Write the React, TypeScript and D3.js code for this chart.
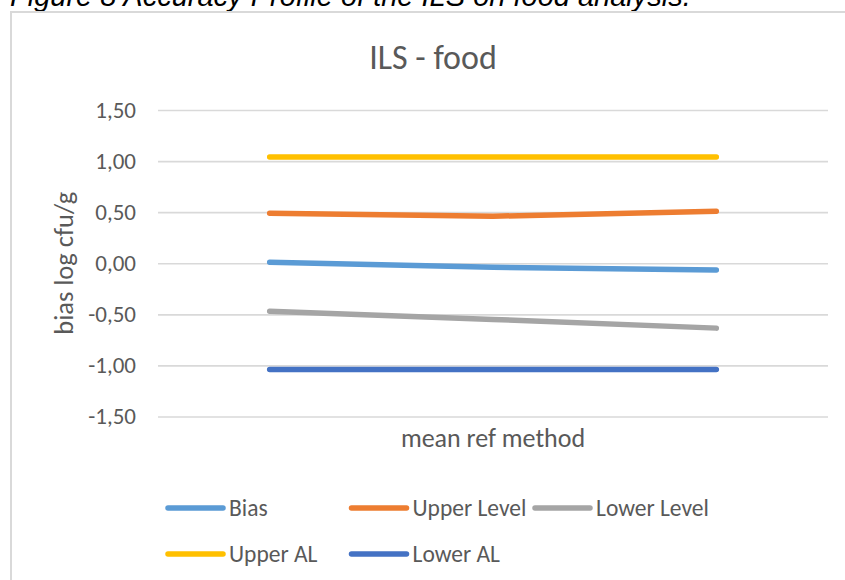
import React, { useEffect, useRef } from "react";
import * as d3 from "d3";

// categories on the x axis have no labels in the original chart
const categories = ["c1", "c2", "c3"];

const seriesNames = ["Bias", "Upper Level", "Lower Level", "Upper AL", "Lower AL"];
const bias = [0.01, -0.04, -0.065];
const upperLevel = [0.49, 0.46, 0.51];
const lowerLevel = [-0.47, -0.55, -0.635];
const upperAL = [1.04, 1.04, 1.04];
const lowerAL = [-1.04, -1.04, -1.04];

const yTicks = [-1.5, -1.0, -0.5, 0, 0.5, 1.0, 1.5];

const colors = ["#5B9BD5", "#ED7D31", "#A5A5A5", "#FFC000", "#4472C4"];

const width = 845;
const height = 580;
const font = "Carlito, Calibri, Lato, sans-serif";

export default function App() {
  const svgRef = useRef(null);

  useEffect(() => {
    const svg = d3.select(svgRef.current);
    svg.selectAll("*").remove();

    const series = [bias, upperLevel, lowerLevel, upperAL, lowerAL];

    // plot area
    const left = 158;
    const right = 828;
    const top = 110;
    const bottom = 416.5;

    const x = d3.scalePoint().domain(categories).range([left, right]).padding(0.5);
    const y = d3.scaleLinear().domain([-1.5, 1.5]).range([bottom, top]);

    // figure caption, cut off at the top of the picture (as in the original)
    svg
      .append("text")
      .attr("x", 10)
      .attr("y", 6)
      .attr("font-family", "'Liberation Sans', Arial, sans-serif")
      .attr("font-style", "italic")
      .attr("font-size", 29)
      .attr("fill", "#000")
      .text("Figure 8 Accuracy Profile of the ILS on food analysis.");

    // chart frame
    svg
      .append("rect")
      .attr("x", 11)
      .attr("y", 12)
      .attr("width", 860)
      .attr("height", 600)
      .attr("fill", "#fff")
      .attr("stroke", "#D9D9D9")
      .attr("stroke-width", 2);

    svg
      .append("text")
      .attr("x", 433)
      .attr("y", 69)
      .attr("text-anchor", "middle")
      .attr("font-family", font)
      .attr("font-size", 34)
      .attr("fill", "#595959")
      .text("ILS - food");

    // gridlines + tick labels
    const yAxis = d3
      .axisLeft(y)
      .tickValues(yTicks)
      .tickSize(-(right - left))
      .tickPadding(22)
      .tickFormat((d) => d3.format(".2f")(d).replace(".", ",").replace("−", "-"));

    const gy = svg.append("g").attr("transform", `translate(${left},0)`).call(yAxis);
    gy.select(".domain").remove();
    gy.selectAll(".tick line").attr("stroke", "#D9D9D9").attr("stroke-width", 1.6);
    gy.selectAll(".tick text")
      .attr("font-family", font)
      .attr("font-size", 23)
      .attr("fill", "#595959");

    svg
      .append("text")
      .attr("transform", `translate(73,${(top + bottom) / 2}) rotate(-90)`)
      .attr("text-anchor", "middle")
      .attr("font-family", font)
      .attr("font-size", 26.5)
      .attr("fill", "#595959")
      .text("bias log cfu/g");

    svg
      .append("text")
      .attr("x", (left + right) / 2)
      .attr("y", 447)
      .attr("text-anchor", "middle")
      .attr("font-family", font)
      .attr("font-size", 26)
      .attr("fill", "#595959")
      .text("mean ref method");

    const line = d3
      .line<number>()
      .x((d, i) => x(categories[i]))
      .y((d) => y(d));

    svg
      .append("g")
      .selectAll("path")
      .data(series)
      .join("path")
      .attr("d", (d) => line(d))
      .attr("fill", "none")
      .attr("stroke", (d, i) => colors[i])
      .attr("stroke-width", 5.5)
      .attr("stroke-linecap", "round")
      .attr("stroke-linejoin", "round");

    // legend: 3 columns, wraps onto a second row
    const legendX = 168;
    const colWidth = 183.5;
    const rowY = [508, 554];
    const legend = svg
      .append("g")
      .selectAll("g")
      .data(seriesNames)
      .join("g")
      .attr(
        "transform",
        (d, i) => `translate(${legendX + (i % 3) * colWidth},${rowY[Math.floor(i / 3)]})`,
      );

    legend
      .append("line")
      .attr("x1", 0)
      .attr("x2", 55)
      .attr("stroke", (d, i) => colors[i])
      .attr("stroke-width", 5.5)
      .attr("stroke-linecap", "round");

    legend
      .append("text")
      .attr("x", 61)
      .attr("dy", "0.35em")
      .attr("font-family", font)
      .attr("font-size", 23.5)
      .attr("fill", "#595959")
      .text((d) => d);
  }, []);

  return (
    <svg
      ref={svgRef}
      width={width}
      height={height}
      style={{ position: "absolute", left: 0, top: 0, background: "#fff" }}
    ></svg>
  );
}
